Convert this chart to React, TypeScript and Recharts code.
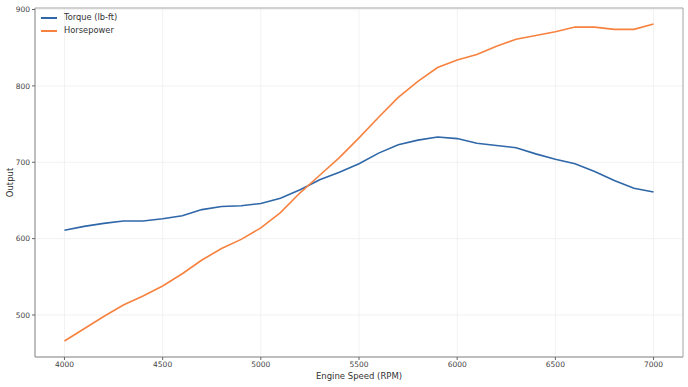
import React from "react";
import {
  LineChart,
  Line,
  XAxis,
  YAxis,
  CartesianGrid,
  ReferenceArea,
  Label,
} from "recharts";

const rpm = [
  4000, 4100, 4200, 4300, 4400, 4500, 4600, 4700, 4800, 4900, 5000, 5100, 5200,
  5300, 5400, 5500, 5600, 5700, 5800, 5900, 6000, 6100, 6200, 6300, 6400, 6500,
  6600, 6700, 6800, 6900, 7000,
];
const torque = [
  611, 616, 620, 623, 623, 626, 630, 638, 642, 643, 646, 653, 664, 677, 687,
  698, 712, 723, 729, 733, 731, 725, 722, 719, 711, 704, 698, 688, 676, 666, 661,
];
const horsepower = [
  466, 482, 498, 513, 525, 538, 554, 572, 587, 599, 614, 634, 660, 683, 706,
  732, 759, 785, 806, 824, 834, 841, 852, 861, 866, 871, 877, 877, 874, 874, 881,
];
const xTicks = [4000, 4500, 5000, 5500, 6000, 6500, 7000];
const yTicks = [500, 600, 700, 800, 900];

const series = [
  { key: "torque", name: "Torque (lb-ft)", color: "#2f67a8" },
  { key: "hp", name: "Horsepower", color: "#f7823f" },
];

const data = rpm.map((r, i) => ({ rpm: r, torque: torque[i], hp: horsepower[i] }));

const FONT = "'DejaVu Sans', sans-serif";
const tickStyle = { fill: "#444", fontSize: 7.5, fontFamily: FONT };

export default function App() {
  return (
    <div style={{ position: "absolute", left: 0, top: 0, width: 688, height: 387, background: "#fff" }}>
      <LineChart
        width={688}
        height={387}
        data={data}
        margin={{ top: 8, right: 5, left: 0, bottom: 0 }}
      >
        <CartesianGrid stroke="#efefef" strokeWidth={0.8} />
        <XAxis
          dataKey="rpm"
          type="number"
          domain={[3850, 7150]}
          ticks={xTicks}
          allowDataOverflow
          height={30}
          stroke="#aaa"
          tickSize={3}
          tick={tickStyle}
          tickLine={{ stroke: "#666" }}
        >
          <Label
            value="Engine Speed (RPM)"
            position="insideBottom"
            offset={8}
            style={{ fill: "#333", fontSize: 8.5, fontFamily: FONT }}
          />
        </XAxis>
        <YAxis
          type="number"
          domain={[445, 902]}
          ticks={yTicks}
          allowDataOverflow
          width={35}
          stroke="#aaa"
          tickSize={3}
          tick={tickStyle}
          tickLine={{ stroke: "#666" }}
        >
          <Label
            value="Output"
            angle={-90}
            position="insideLeft"
            offset={10}
            style={{ fill: "#333", fontSize: 8.5, fontFamily: FONT, textAnchor: "middle" }}
          />
        </YAxis>
        <ReferenceArea
          x1={3850}
          x2={7150}
          y1={445}
          y2={902}
          fill="none"
          stroke="#aaa"
          strokeWidth={1}
          ifOverflow="extendDomain"
        />
        {series.map((s) => (
          <Line
            key={s.key}
            dataKey={s.key}
            name={s.name}
            stroke={s.color}
            strokeWidth={1.6}
            dot={false}
            isAnimationActive={false}
          />
        ))}
      </LineChart>
      <div
        style={{
          position: "absolute",
          left: 41,
          top: 11,
          fontFamily: FONT,
          fontSize: 8.3,
          color: "#333",
          lineHeight: "13px",
        }}
      >
        {series.map((s) => (
          <div key={s.key} style={{ display: "flex", alignItems: "center" }}>
            <span
              style={{
                display: "inline-block",
                width: 16,
                height: 2,
                background: s.color,
                marginRight: 7,
              }}
            />
            {s.name}
          </div>
        ))}
      </div>
    </div>
  );
}
